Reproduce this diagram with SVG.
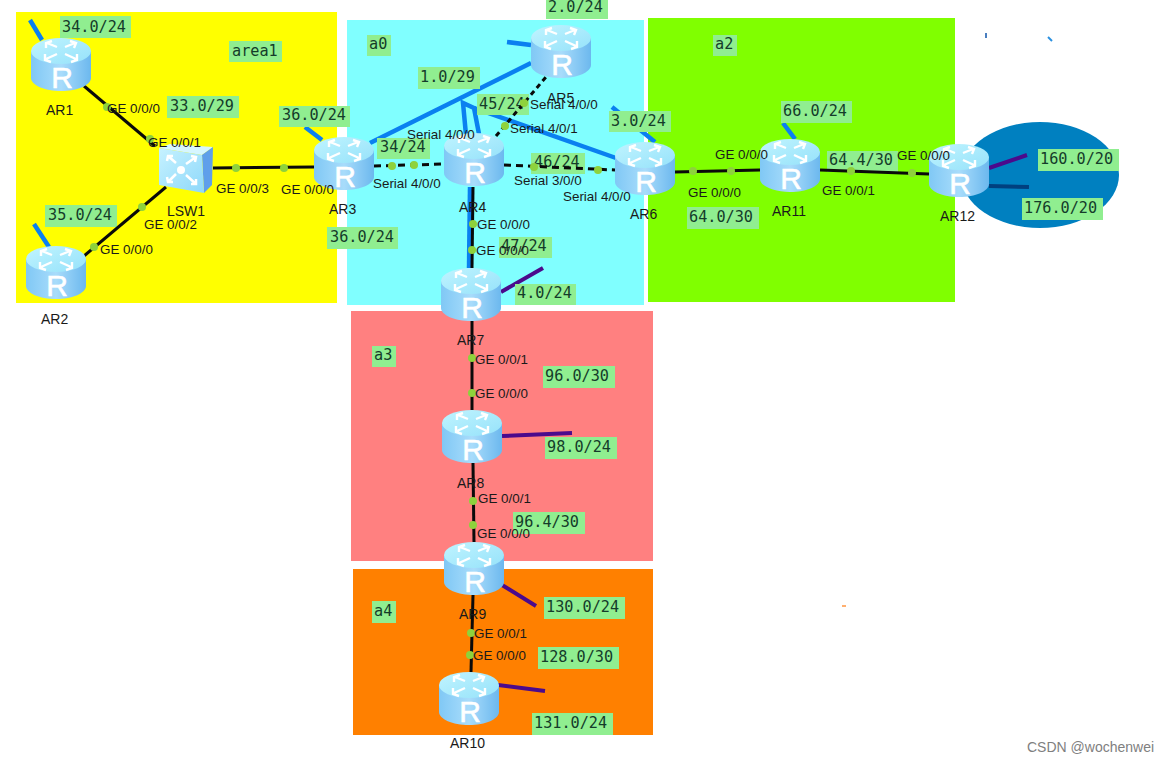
<svg xmlns="http://www.w3.org/2000/svg" width="1167" height="762" viewBox="0 0 1167 762">
<style>
.lb{fill:#90ee90}
.m{font:15.2px "DejaVu Sans Mono","Liberation Mono",monospace;fill:#143c2a}
.i{font:13.4px "Liberation Sans",Arial,sans-serif;fill:#1a1a1a}
.n{font:14px "Liberation Sans",Arial,sans-serif;fill:#1a1a1a}
.r{font:30px "Liberation Sans",Arial,sans-serif;fill:#fff;text-anchor:middle;stroke:#fff;stroke-width:.6}
.blue{stroke:#0a80f0;stroke-width:4.500;fill:none}
.pur{stroke:#4b0a8c;stroke-width:4;fill:none}
.bk{stroke:#0a0a0a;stroke-width:3;fill:none}
.ds{stroke:#0a0a0a;stroke-width:3;fill:none;stroke-dasharray:7 5}
.dot{fill:#8ed23c}
</style>
<defs>
<linearGradient id="body" x1="0" x2="1" y1="0" y2="0">
<stop offset="0" stop-color="#80c8f5"/><stop offset=".5" stop-color="#a8dcfb"/><stop offset="1" stop-color="#6cb8ee"/>
</linearGradient>
<linearGradient id="top" x1="0" x2="1" y1="0" y2="1">
<stop offset="0" stop-color="#c0f4ff"/><stop offset="1" stop-color="#96e2fa"/>
</linearGradient>
<linearGradient id="face" x1="0" x2="1" y1="0" y2="1">
<stop offset="0" stop-color="#c6f2ff"/><stop offset="1" stop-color="#8ed8fa"/>
</linearGradient>
<symbol id="router" width="60" height="54" viewBox="0 0 60 54" overflow="visible">
<path d="M0 13V40C0 47 13.500 53 30 53S60 47 60 40V13Z" fill="url(#body)"/>
<ellipse cx="30" cy="13" rx="30" ry="13" fill="url(#top)"/>
<g fill="none" stroke="#fff" stroke-width="2.400">
<path d="M26 9 16 5M15 10 15 5 21 3"/>
<path d="M34 9 44 5M39 3 45 5 43 10"/>
<path d="M26 16 15 21M14 16 14 22 20 24"/>
<path d="M34 16 45 21M46 16 46 22 40 24"/>
</g>
</symbol>
</defs>

<g id="areas">
<rect x="16" y="12" width="321" height="291" fill="#ffff00"/>
<rect x="347" y="20" width="297" height="285" fill="#80ffff"/>
<rect x="648" y="18" width="307" height="284" fill="#80ff00"/>
<rect x="351" y="311" width="302" height="250" fill="#ff8080"/>
<rect x="353" y="569" width="300" height="166" fill="#ff8000"/>
<ellipse cx="1040" cy="175" rx="79" ry="53" fill="#0080c0"/>
<rect x="985" y="33" width="2" height="5" fill="#4a7fc0"/>
<path d="M1048 37 1052 41" stroke="#2a90e0" stroke-width="2"/>
<rect x="842" y="605" width="4" height="2" fill="#ffb070"/>
</g>

<g id="lan-links">
<path class="blue" d="M30 20 42 40"/>
<path class="blue" d="M34 224 49 247"/>
<path class="blue" d="M305 127 322 140"/>
<path class="blue" d="M370 143 531 63"/>
<path class="blue" d="M507 42 531 45"/>
<path class="blue" d="M466 135 463 103 474 108 479 134"/>
<path class="blue" d="M474 108 616 158"/>
<path class="blue" d="M612 107 655 142"/>
<path class="blue" d="M783 123 795 139"/>
<path class="blue" d="M470 187 469 268"/>
<path class="pur" d="M501 292 543 268"/>
<path class="pur" d="M502 436 572 433"/>
<path class="pur" d="M502 585 536 606"/>
<path class="pur" d="M498 685 545 691"/>
<path class="pur" d="M989 168 1027 155"/>
<path d="M989 186 1029 187" stroke="#00407f" stroke-width="4"/>
</g>

<g id="subnet-labels">
<rect class="lb" x="60" y="16" width="71" height="22"/><text class="m" x="62" y="32">34.0/24</text>
<rect class="lb" x="229" y="41" width="53" height="21"/><text class="m" x="232" y="56">area1</text>
<rect class="lb" x="167" y="96" width="72" height="22"/><text class="m" x="170" y="111">33.0/29</text>
<rect class="lb" x="279" y="106" width="71" height="21"/><text class="m" x="282" y="120">36.0/24</text>
<rect class="lb" x="45" y="205" width="72" height="22"/><text class="m" x="48" y="220">35.0/24</text>
<rect class="lb" x="327" y="227" width="71" height="22"/><text class="m" x="330" y="242">36.0/24</text>
<rect class="lb" x="367" y="35" width="24" height="21"/><text class="m" x="369" y="49">a0</text>
<rect class="lb" x="418" y="67" width="62" height="22"/><text class="m" x="420" y="82">1.0/29</text>
<rect class="lb" x="546" y="0" width="62" height="19"/><text class="m" x="548" y="12">2.0/24</text>
<rect class="lb" x="477" y="94" width="52" height="21"/><text class="m" x="479" y="109">45/24</text>
<rect class="lb" x="377" y="138" width="53" height="21"/><text class="m" x="380" y="152">34/24</text>
<rect class="lb" x="609" y="111" width="62" height="21"/><text class="m" x="611" y="126">3.0/24</text>
<rect class="lb" x="531" y="153" width="54" height="21"/><text class="m" x="534" y="167">46/24</text>
<rect class="lb" x="499" y="237" width="53" height="21"/><text class="m" x="501" y="251">47/24</text>
<rect class="lb" x="515" y="284" width="61" height="21"/><text class="m" x="517" y="298">4.0/24</text>
<rect class="lb" x="713" y="35" width="24" height="21"/><text class="m" x="715" y="49">a2</text>
<rect class="lb" x="781" y="101" width="71" height="22"/><text class="m" x="783" y="116">66.0/24</text>
<rect class="lb" x="827" y="151" width="71" height="21"/><text class="m" x="829" y="165">64.4/30</text>
<rect class="lb" x="687" y="207" width="72" height="22"/><text class="m" x="689" y="222">64.0/30</text>
<rect class="lb" x="1038" y="149" width="81" height="22"/><text class="m" x="1040" y="164">160.0/20</text>
<rect class="lb" x="1022" y="198" width="81" height="22"/><text class="m" x="1024" y="213">176.0/20</text>
<rect class="lb" x="372" y="346" width="24" height="21"/><text class="m" x="374" y="360">a3</text>
<rect class="lb" x="543" y="366" width="72" height="22"/><text class="m" x="545" y="381">96.0/30</text>
<rect class="lb" x="545" y="437" width="72" height="22"/><text class="m" x="547" y="452">98.0/24</text>
<rect class="lb" x="513" y="512" width="72" height="22"/><text class="m" x="515" y="527">96.4/30</text>
<rect class="lb" x="372" y="601" width="24" height="22"/><text class="m" x="374" y="616">a4</text>
<rect class="lb" x="544" y="597" width="81" height="22"/><text class="m" x="546" y="612">130.0/24</text>
<rect class="lb" x="538" y="647" width="81" height="22"/><text class="m" x="540" y="662">128.0/30</text>
<rect class="lb" x="532" y="713" width="81" height="22"/><text class="m" x="534" y="728">131.0/24</text>
</g>

<g id="connectors">
<path class="bk" d="M84 86 155 146"/>
<path class="bk" d="M166 187 84 256"/>
<path class="bk" d="M213 168 314 167"/>
<path class="ds" d="M374 166 444 164"/>
<path class="ds" d="M504 165 615 170"/>
<path class="ds" style="stroke-dasharray:5 4" d="M496 136 546 77"/>
<path class="bk" d="M473 187 472 268"/>
<path class="bk" d="M472 321 472 410"/>
<path class="bk" d="M473 463 474 542"/>
<path class="bk" d="M473 595 471 672"/>
<path class="bk" d="M675 172 760 170"/>
<path class="bk" d="M820 170 929 174"/>
<circle class="dot" cx="107" cy="107" r="4"/><circle class="dot" cx="150" cy="139" r="4"/>
<circle class="dot" cx="142" cy="207" r="4"/><circle class="dot" cx="94" cy="247" r="4"/>
<circle class="dot" cx="236" cy="168" r="4"/><circle class="dot" cx="284" cy="168" r="4"/>
<circle class="dot" cx="392" cy="166" r="4"/><circle class="dot" cx="414" cy="165" r="4"/>
<circle class="dot" cx="534" cy="167" r="4"/><circle class="dot" cx="598" cy="170" r="4"/>
<circle class="dot" cx="505" cy="126" r="4"/><circle class="dot" cx="524" cy="103" r="4"/>
<circle class="dot" cx="473" cy="224" r="4"/><circle class="dot" cx="472" cy="250" r="4"/>
<circle class="dot" cx="472" cy="358" r="4"/><circle class="dot" cx="472" cy="393" r="4"/>
<circle class="dot" cx="473" cy="501" r="4"/><circle class="dot" cx="473" cy="525" r="4"/>
<circle class="dot" cx="471" cy="633" r="4"/><circle class="dot" cx="470" cy="655" r="4"/>
<circle class="dot" cx="693" cy="171" r="4"/><circle class="dot" cx="731" cy="171" r="4"/>
<circle class="dot" cx="851" cy="171" r="4"/><circle class="dot" cx="912" cy="173" r="4"/>
</g>

<g id="AR1"><use href="#router" x="31" y="38"/><text class="r" x="62" y="88">R</text><text class="n" x="46" y="115">AR1</text></g>
<g id="AR2"><use href="#router" x="26" y="246"/><text class="r" x="57" y="296">R</text><text class="n" x="41" y="324">AR2</text></g>
<g id="AR3"><use href="#router" x="314" y="137"/><text class="r" x="345" y="187">R</text><text class="n" x="329" y="214">AR3</text></g>
<g id="AR4"><use href="#router" x="444" y="133"/><text class="r" x="475" y="183">R</text><text class="n" x="459" y="212">AR4</text></g>
<g id="AR5"><use href="#router" x="531" y="25"/><text class="r" x="562" y="75">R</text><text class="n" x="547" y="103">AR5</text></g>
<g id="AR6"><use href="#router" x="615" y="142"/><text class="r" x="646" y="192">R</text><text class="n" x="630" y="219">AR6</text></g>
<g id="AR7"><use href="#router" x="441" y="268"/><text class="r" x="472" y="318">R</text><text class="n" x="457" y="345">AR7</text></g>
<g id="AR8"><use href="#router" x="442" y="410"/><text class="r" x="473" y="460">R</text><text class="n" x="457" y="488">AR8</text></g>
<g id="AR9"><use href="#router" x="444" y="542"/><text class="r" x="475" y="592">R</text><text class="n" x="459" y="619">AR9</text></g>
<g id="AR10"><use href="#router" x="439" y="672"/><text class="r" x="470" y="722">R</text><text class="n" x="450" y="748">AR10</text></g>
<g id="AR11"><use href="#router" x="760" y="139"/><text class="r" x="791" y="189">R</text><text class="n" x="772" y="216">AR11</text></g>
<g id="AR12"><use href="#router" x="929" y="144"/><text class="r" x="960" y="194">R</text><text class="n" x="940" y="221">AR12</text></g>
<g id="LSW1">
<path d="M159 148 170 144 213 147 202 155Z" fill="#d6f6ff"/>
<path d="M202 155 213 147 212 185 204 193Z" fill="#5f9fea"/>
<path d="M159 148 202 155 204 193 159 185Z" fill="url(#face)"/>
<g fill="none" stroke="#fff" stroke-width="2.500">
<path d="M176 163 168 156M167 161 168 156 173 156"/>
<path d="M186 164 196 157M191 156 196 157 195 162"/>
<path d="M176 174 168 182M167 177 168 182 173 182"/>
<path d="M186 175 196 184M196 179 196 184 191 184"/>
</g>
<circle cx="181" cy="170" r="4" fill="#fff"/>
<text class="n" x="167" y="216">LSW1</text>
</g>

<g id="interface-labels">
<text class="i" x="107" y="113">GE 0/0/0</text>
<text class="i" x="148" y="147">GE 0/0/1</text>
<text class="i" x="216" y="193">GE 0/0/3</text>
<text class="i" x="281" y="194">GE 0/0/0</text>
<text class="i" x="144" y="229">GE 0/0/2</text>
<text class="i" x="100" y="254">GE 0/0/0</text>
<text class="i" x="407" y="139">Serial 4/0/0</text>
<text class="i" x="373" y="188">Serial 4/0/0</text>
<text class="i" x="530" y="109">Serial 4/0/0</text>
<text class="i" x="510" y="133">Serial 4/0/1</text>
<text class="i" x="514" y="185">Serial 3/0/0</text>
<text class="i" x="563" y="201">Serial 4/0/0</text>
<text class="i" x="477" y="229">GE 0/0/0</text>
<text class="i" x="476" y="255">GE 0/0/0</text>
<text class="i" x="475" y="364">GE 0/0/1</text>
<text class="i" x="475" y="398">GE 0/0/0</text>
<text class="i" x="478" y="503">GE 0/0/1</text>
<text class="i" x="477" y="538">GE 0/0/0</text>
<text class="i" x="474" y="638">GE 0/0/1</text>
<text class="i" x="473" y="660">GE 0/0/0</text>
<text class="i" x="715" y="159">GE 0/0/0</text>
<text class="i" x="688" y="197">GE 0/0/0</text>
<text class="i" x="822" y="195">GE 0/0/1</text>
<text class="i" x="897" y="160">GE 0/0/0</text>
</g>
<text x="1027" y="752" style="font:14px 'Liberation Sans',Arial,sans-serif;fill:#808080">CSDN @wochenwei</text>
</svg>
